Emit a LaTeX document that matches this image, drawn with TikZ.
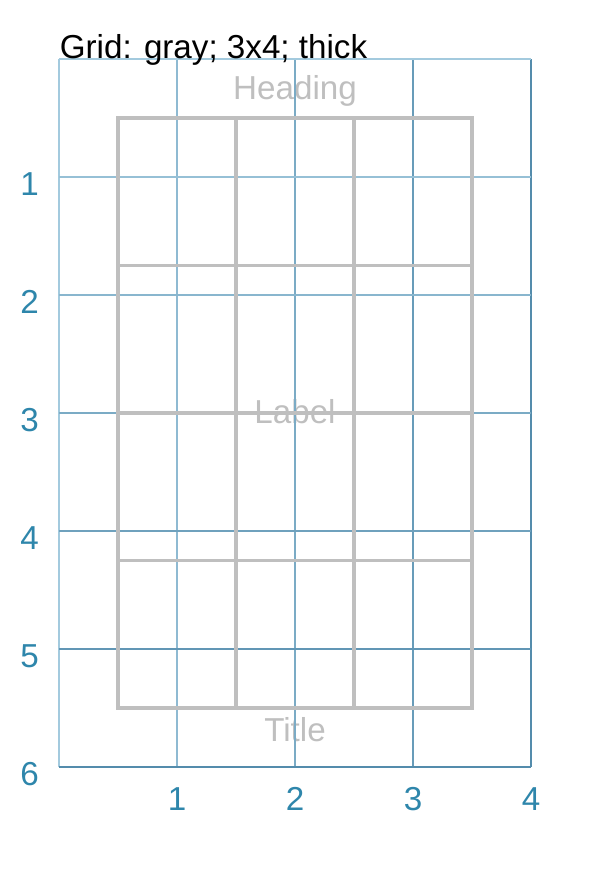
\documentclass[tikz,border=0pt]{standalone}
\usepackage{fontspec}
\setmainfont{Liberation Sans}
\usepackage{tikz}
\usetikzlibrary{positioning}

\definecolor{gridlight}{RGB}{163,202,222}
\definecolor{griddark}{RGB}{84,140,172}
\definecolor{axisblue}{RGB}{46,134,171}
\definecolor{boxgray}{RGB}{191,191,191}

\begin{document}
\begin{tikzpicture}[x=1cm,y=-1cm,font=\fontsize{8}{9.6}\selectfont,
		axislabel/.style={text=axisblue,inner sep=0pt,anchor=base},
		panellabel/.style={text=boxgray,inner sep=0pt,anchor=base}]
			
			\useasboundingbox (-0.5,-0.5) rectangle (4.695,6.915);
			
			% panel texts (under the grid)
			\node[panellabel] (heading) at (2,0.342) {Heading};
			\node[panellabel] (label) at (2,3.093) {Label};
			\node[panellabel] (title) at (2,5.78) {Title};
			
			% background grid
			\foreach \x in {0,...,4}{
				\pgfmathtruncatemacro\p{\x*25}
				\draw[griddark!\p!gridlight,line width=0.4pt] (\x,0) -- (\x,6);
			}
			\foreach \y in {0,...,6}{
				\pgfmathtruncatemacro\p{\y*100/6}
				\draw[griddark!\p!gridlight,line width=0.4pt] (0,\y) -- (4,\y);
			}
			
			% 3x4 gray grid
			\draw[boxgray,thick] (0.5,0.5) rectangle (3.5,5.5);
			\foreach \x in {1.5,2.5}
				\draw[boxgray,thick] (\x,0.5) -- (\x,5.5);
			\foreach \y in {1.75,3,4.25}
				\draw[boxgray,thick] (0.5,\y) -- (3.5,\y);
			
			% axis numbers
			\foreach \n in {1,...,6}
				\node[axislabel] (y\n) at (-0.25,\n+0.16) {\n};
			\foreach \n in {1,...,4}
				\node[axislabel] (x\n) at (\n,6.37) {\n};
			
			\node[anchor=base west,inner sep=0pt] (caption) at (0,-0.005) {Grid: gray; 3x4; thick};
			
		\end{tikzpicture}
\end{document}
